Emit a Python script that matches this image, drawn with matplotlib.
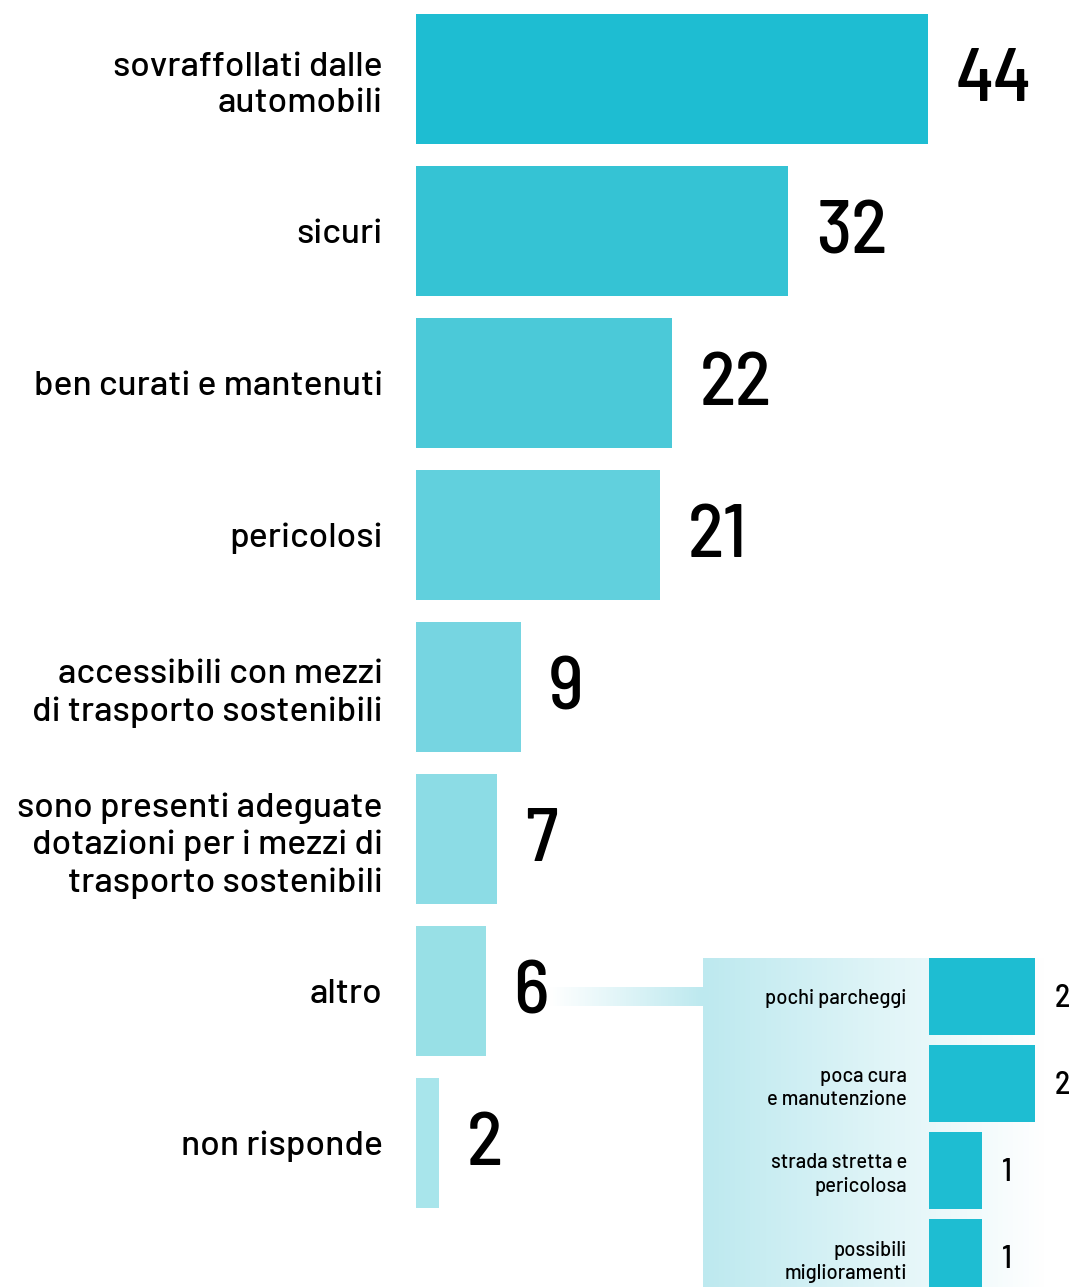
import numpy as np
import matplotlib
matplotlib.use("Agg")
from matplotlib import pyplot as plt
from matplotlib.colors import LinearSegmentedColormap

# main question answers
categories = ["sovraffollati dalle\nautomobili", "sicuri", "ben curati e mantenuti",
              "pericolosi", "accessibili con mezzi\ndi trasporto sostenibili",
              "sono presenti adeguate\ndotazioni per i mezzi di\ntrasporto sostenibili",
              "altro", "non risponde"]
values = [44, 32, 22, 21, 9, 7, 6, 2]

# breakdown of "altro"
sub_categories = ["pochi parcheggi", "poca cura\ne manutenzione",
                  "strada stretta e\npericolosa", "possibili\nmiglioramenti"]
sub_values = [2, 2, 1, 1]

bar_colors = ["#1ebdd2", "#35c3d4", "#4bc9d8", "#61d0dd",
              "#76d5e1", "#8cdce5", "#98e0e6", "#a8e5eb"]

LABEL_FONT = ["Barlow", "DejaVu Sans"]
NUM_FONT = ["Barlow Semi Condensed", "DejaVu Sans"]

W, H = 1074, 1287
fig = plt.figure(figsize=(W / 100, H / 100), dpi=100)

def px_axes(x0, y0, x1, y1, **kw):
    return fig.add_axes([x0 / W, 1 - y1 / H, (x1 - x0) / W, (y1 - y0) / H], **kw)

def clean(a):
    a.set_xticks([])
    for s in a.spines.values():
        s.set_visible(False)
    a.patch.set_alpha(0)

# main bars: x=0 at px 416, 11.64 px per unit, rows 152 px apart
ax = px_axes(416, 0, W, H)
ypos = np.arange(len(values))
ax.barh(ypos, values, height=0.855, color=bar_colors)
ax.set_xlim(0, (W - 416) / 11.64)
ax.set_ylim((H - 79) / 152, -79 / 152)
ax.set_yticks(ypos)
ax.set_yticklabels(categories, fontsize=25.5, family=LABEL_FONT, fontweight="medium",
                   ha="right", multialignment="right", linespacing=1.25)
ax.tick_params(axis="y", length=0, pad=24)
clean(ax)
for v, y in zip(values, ypos):
    ax.annotate(str(v), (v, y), xytext=(20, 3), textcoords="offset points",
                ha="left", va="center_baseline", fontsize=54, family=NUM_FONT,
                fontweight="medium")

# connector and panel gradients
cmap = LinearSegmentedColormap.from_list("fade", ["#ffffff", "#bde9ef"])
grad = np.linspace(0, 1, 256).reshape(1, -1)
cax = px_axes(550, 987, 703, 1006)
cax.imshow(grad, aspect="auto", cmap=cmap, vmin=0, vmax=1)
cax.axis("off")

pax = px_axes(703, 958, 1045, H)
pax.imshow(grad[:, ::-1], aspect="auto", cmap=cmap, vmin=0, vmax=1)
pax.axis("off")

# inset bars: x=0 at px 929, 53 px per unit, rows 87 px apart
sax = px_axes(929, 940, W, H)
sy = np.arange(len(sub_values))
sax.barh(sy, sub_values, height=0.885, color="#1ebdd2")
sax.set_xlim(0, (W - 929) / 53)
sax.set_ylim((H - 996.5) / 87, -(996.5 - 940) / 87)
sax.set_yticks(sy)
sax.set_yticklabels(sub_categories, fontsize=14.5, family=LABEL_FONT, fontweight="medium",
                    ha="right", multialignment="right", linespacing=1.3)
sax.tick_params(axis="y", length=0, pad=16)
clean(sax)
for v, y in zip(sub_values, sy):
    sax.annotate(str(v), (v, y), xytext=(14, 1), textcoords="offset points",
                 ha="left", va="center_baseline", fontsize=23, family=NUM_FONT,
                 fontweight="medium")

fig.savefig("out.png", dpi=100)
